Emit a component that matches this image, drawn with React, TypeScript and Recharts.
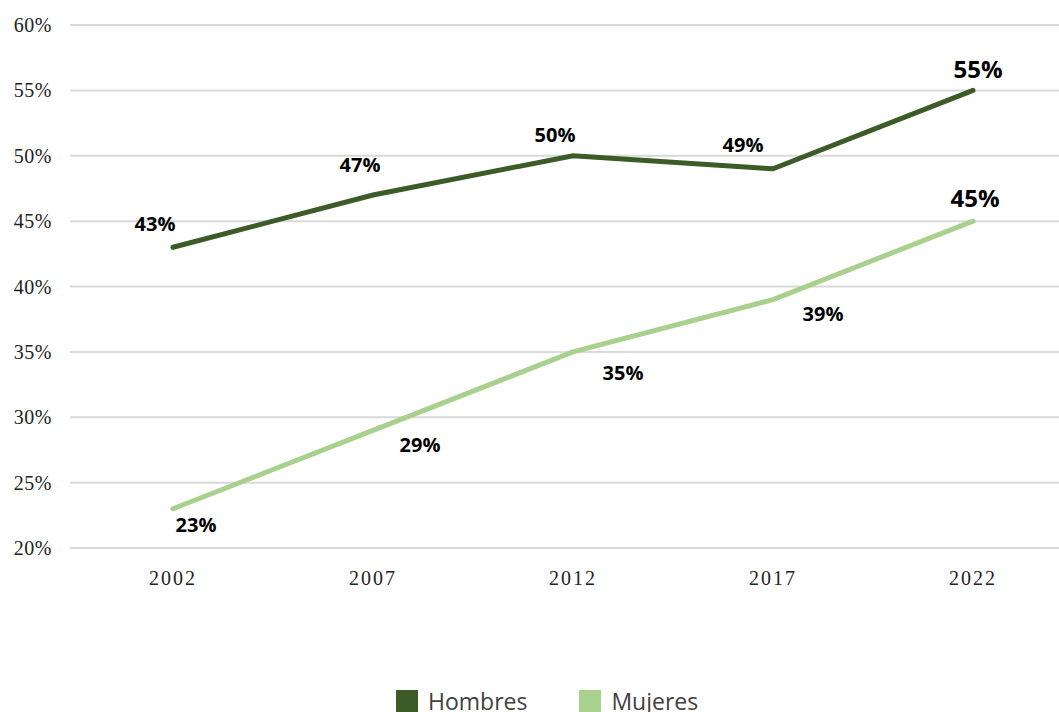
import { CartesianGrid, Legend, Line, LineChart, XAxis, YAxis } from 'recharts';

const years = ['2002', '2007', '2012', '2017', '2022'];
const hombres = [43, 47, 50, 49, 55];
const mujeres = [23, 29, 35, 39, 45];
const yTicks = [20, 25, 30, 35, 40, 45, 50, 55, 60];

// label nudges (px) relative to each point
const hombresLabelOffset = [
  [-18, -24],
  [-13, -30],
  [-18, -21],
  [-30, -24],
  [5, -22],
];
const mujeresLabelOffset = [
  [23, 16],
  [47, 14],
  [50, 21],
  [50, 14],
  [2, -24],
];

const DARK = '#3B5B27';
const LIGHT = '#A9D18E';

const chartData = years.map((year, i) => ({
  year,
  hombres: hombres[i],
  mujeres: mujeres[i],
}));

const makeLabel = (offsets: number[][]) => (props: any) => {
  const { x, y, value, index } = props;
  const last = index === years.length - 1;
  const [dx, dy] = offsets[index];
  return (
    <text
      key={`l-${index}`}
      x={x + dx}
      y={y + dy}
      textAnchor='middle'
      dominantBaseline='central'
      fontFamily='"Open Sans", sans-serif'
      fontWeight={700}
      fontSize={last ? 24 : 20}
      fill='#000'
    >
      {value}%
    </text>
  );
};

const renderLegend = () => (
  <div
    style={{
      display: 'flex',
      alignItems: 'flex-start',
      marginLeft: 388,
      paddingTop: 6,
      fontFamily: '"Open Sans", sans-serif',
      fontSize: 23,
      color: '#404040',
      lineHeight: '26px',
    }}
  >
    <span style={{ width: 22, height: 22, background: DARK, marginTop: 2 }} />
    <span style={{ marginLeft: 10 }}>Hombres</span>
    <span style={{ width: 22, height: 22, background: LIGHT, marginLeft: 52, marginTop: 2 }} />
    <span style={{ marginLeft: 10 }}>Mujeres</span>
  </div>
);

export default function App() {
  return (
    <div
      style={{
        position: 'fixed',
        top: 8,
        left: 8,
        width: 1051,
        height: 704,
        overflow: 'hidden',
        background: '#fff',
      }}
    >
      <LineChart
        width={1051}
        height={704}
        data={chartData}
        margin={{ top: 17, right: 0, left: 0, bottom: 0 }}
      >
        <CartesianGrid vertical={false} stroke='#D9D9D9' strokeWidth={2} />
        <XAxis
          dataKey='year'
          axisLine={{ stroke: '#D9D9D9', strokeWidth: 2 }}
          tickLine={false}
          tickMargin={17}
          height={134}
          padding={{ left: 103, right: 86 }}
          tick={{
            fontFamily: '"Liberation Serif", serif',
            fontSize: 20,
            fill: '#222',
            letterSpacing: 2,
          }}
        />
        <YAxis
          domain={[20, 60]}
          ticks={yTicks}
          width={62}
          axisLine={false}
          tickLine={false}
          tickMargin={12}
          tickFormatter={(v) => `${v}%`}
          tick={{
            fontFamily: '"Liberation Serif", serif',
            fontSize: 20,
            fill: '#222',
            letterSpacing: 0.5,
          }}
        />
        <Legend verticalAlign='bottom' height={30} content={renderLegend} />
        <Line
          type='linear'
          dataKey='hombres'
          name='Hombres'
          stroke={DARK}
          strokeWidth={5}
          strokeLinecap='round'
          dot={false}
          activeDot={false}
          isAnimationActive={false}
          label={makeLabel(hombresLabelOffset)}
        />
        <Line
          type='linear'
          dataKey='mujeres'
          name='Mujeres'
          stroke={LIGHT}
          strokeWidth={5}
          strokeLinecap='round'
          dot={false}
          activeDot={false}
          isAnimationActive={false}
          label={makeLabel(mujeresLabelOffset)}
        />
      </LineChart>
    </div>
  );
}
